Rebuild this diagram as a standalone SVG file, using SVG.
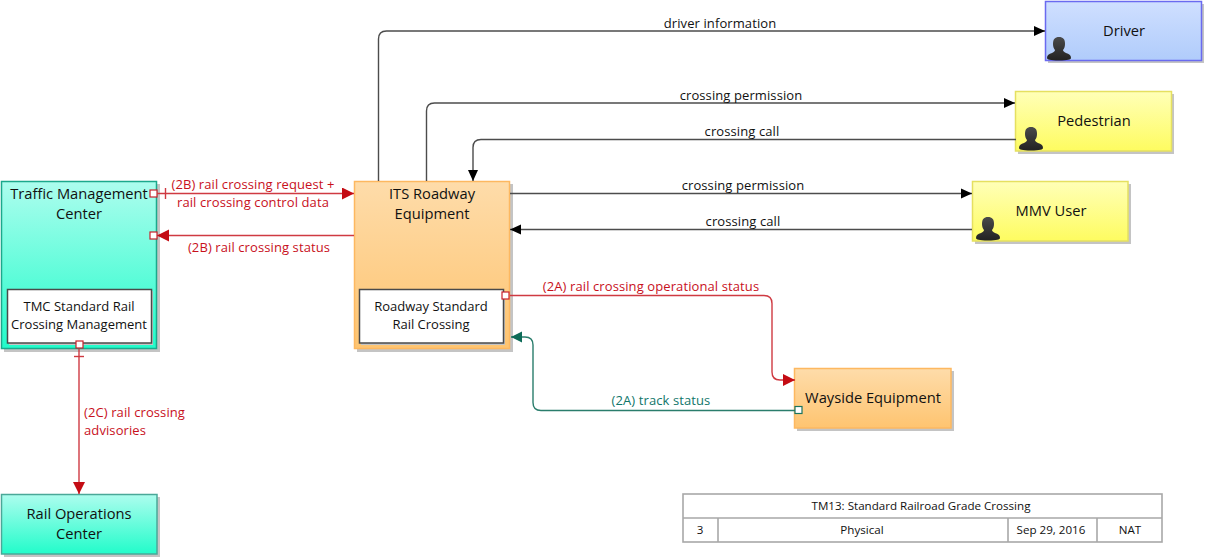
<svg xmlns="http://www.w3.org/2000/svg" width="1205" height="557" viewBox="0 0 1205 557">
<style>
text{font-family:"Open Sans","Noto Sans","DejaVu Sans",sans-serif;text-anchor:middle;fill:#111}
.n{font-size:14.7px}
.s{font-size:13px}
.l{font-size:13px;letter-spacing:.1px}
.r{fill:#c8101c}
.g{fill:#10766a}
.k{fill:#111}
.t{font-size:11.6px}
.c{fill:none;stroke-width:1.4}
.cr{stroke:#cf3a42}
.cg{stroke:#2a7d6c}
.ck{stroke:#4c4c4c}
.box{stroke-width:1.5}
.shadow{fill:#c4c4c4}
.inner{fill:#fff;stroke:#4a4a4a;stroke-width:1.5}
.port{fill:#fff;stroke-width:1.2}
.table{fill:#fff;stroke:#a8a8a8;stroke-width:1.6}
</style>
<defs>
<linearGradient id="teal" x1="0" y1="0" x2="0" y2="1"><stop offset="0" stop-color="#adfdee"/><stop offset="1" stop-color="#22fcca"/></linearGradient>
<linearGradient id="orange" x1="0" y1="0" x2="0" y2="1"><stop offset="0" stop-color="#fedcaa"/><stop offset="1" stop-color="#fec470"/></linearGradient>
<linearGradient id="yellow" x1="0" y1="0" x2="0" y2="1"><stop offset="0" stop-color="#ffffb8"/><stop offset="1" stop-color="#fefc60"/></linearGradient>
<linearGradient id="blue" x1="0" y1="0" x2="0" y2="1"><stop offset="0" stop-color="#cfdfff"/><stop offset="1" stop-color="#b0ccfb"/></linearGradient>
<linearGradient id="figure" x1="0" y1="0" x2="0" y2="1"><stop offset="0" stop-color="#4a4a4a"/><stop offset="1" stop-color="#222"/></linearGradient>
<marker id="ak" markerWidth="12" markerHeight="11" refX="11" refY="5.500" orient="auto" markerUnits="userSpaceOnUse"><path d="M0 0.500L11 5.500L0 10.500Z" fill="#000"/></marker>
<marker id="ar" markerWidth="13" markerHeight="13" refX="12" refY="6" orient="auto" markerUnits="userSpaceOnUse"><path d="M0 0L12 6L0 12Z" fill="#c40c14"/></marker>
<marker id="ag" markerWidth="13" markerHeight="12" refX="11" refY="5.500" orient="auto" markerUnits="userSpaceOnUse"><path d="M0 0L11 5.500L0 11Z" fill="#0d6b58"/></marker>
<g id="person"><path d="M-12 11c0-3 2-4 5-5 2-1 3-2 3-3-1-1-2-3-2-6 0-5 2-7 6-7s6 2 6 7c0 3-1 5-2 6 0 1 1 2 3 3 3 1 5 2 5 5 0 1.500-3 2.500-12 2.500S-12 12.500-12 11Z" fill="url(#figure)"/></g>
</defs>

<g id="tmc">
<rect class="shadow" x="4" y="184" width="156" height="168"/>
<rect class="box" x="1.500" y="181.500" width="155" height="167" fill="url(#teal)" stroke="#1ba98c"/>
<text class="n" x="79" y="199">Traffic Management</text>
<text class="n" x="79" y="219">Center</text>
<rect class="shadow" x="9" y="291" width="144" height="54"/>
<rect class="inner" x="7.500" y="289.500" width="144" height="53.500"/>
<text class="s" x="79" y="311">TMC Standard Rail</text>
<text class="s" x="79" y="329">Crossing Management</text>
<rect class="port" x="150" y="190" width="7" height="7" stroke="#c8202a"/>
<rect class="port" x="150" y="232" width="7" height="7" stroke="#c8202a"/>
<rect class="port" x="76" y="341" width="7" height="7" stroke="#c8202a"/>
</g>

<g id="its-roadway">
<rect class="shadow" x="357" y="184" width="156" height="168"/>
<rect class="box" x="354.500" y="181.500" width="155" height="167" fill="url(#orange)" stroke="#fdb860"/>
<text class="n" x="432" y="199">ITS Roadway</text>
<text class="n" x="432" y="219">Equipment</text>
<rect class="shadow" x="361" y="291" width="144" height="54"/>
<rect class="inner" x="359.500" y="289.500" width="144" height="53.500"/>
<text class="s" x="431" y="311">Roadway Standard</text>
<text class="s" x="431" y="329">Rail Crossing</text>
<rect class="port" x="502" y="292" width="7" height="7" stroke="#c8202a"/>
</g>

<g id="driver">
<rect class="shadow" x="1048" y="4" width="156" height="59"/>
<rect class="box" x="1045.500" y="1.500" width="156" height="59" fill="url(#blue)" stroke="#6a6af0"/>
<text class="n" x="1124" y="36">Driver</text>
<use href="#person" x="1059" y="47"/>
</g>

<g id="pedestrian">
<rect class="shadow" x="1018" y="94" width="156" height="60"/>
<rect class="box" x="1015.500" y="91.500" width="156" height="59.500" fill="url(#yellow)" stroke="#e5e060"/>
<text class="n" x="1094" y="126">Pedestrian</text>
<use href="#person" x="1031" y="137"/>
</g>

<g id="mmv-user">
<rect class="shadow" x="975" y="184" width="156" height="60"/>
<rect class="box" x="972.500" y="181.500" width="155.500" height="59.500" fill="url(#yellow)" stroke="#e5e060"/>
<text class="n" x="1051" y="216">MMV User</text>
<use href="#person" x="988" y="227"/>
</g>

<g id="wayside">
<rect class="shadow" x="797" y="371" width="157" height="60"/>
<rect class="box" x="794.500" y="368.500" width="156.500" height="59.500" fill="url(#orange)" stroke="#fdb860"/>
<text class="n" x="873" y="403">Wayside Equipment</text>
</g>

<g id="rail-ops">
<rect class="shadow" x="4" y="497" width="156" height="60"/>
<rect class="box" x="1.500" y="494.500" width="155.500" height="59.500" fill="url(#teal)" stroke="#4aa898"/>
<text class="n" x="79" y="519">Rail Operations</text>
<text class="n" x="79" y="539">Center</text>
</g>

<g id="connectors">
<path class="c ck" d="M378.500 181V39q0-8 8-8H1045" marker-end="url(#ak)"/>
<path class="c ck" d="M426.500 181V111q0-8 8-8H1015" marker-end="url(#ak)"/>
<path class="c ck" d="M1016 139.500H481q-8 0-8 8V181" marker-end="url(#ak)"/>
<path class="c ck" d="M510 193.500H972" marker-end="url(#ak)"/>
<path class="c ck" d="M972 229.500H510" marker-end="url(#ak)"/>
<path class="c cr" d="M157 193.500H354" marker-end="url(#ar)"/>
<path class="c cr" d="M165.500 188V199"/>
<path class="c cr" d="M354 235.500H157" marker-end="url(#ar)"/>
<path class="c cr" d="M79 349V494" marker-end="url(#ar)"/>
<path class="c cr" d="M74 356.500H84"/>
<path class="c cr" d="M510 295.500H764q8 0 8 8V372q0 8 8 8H795" marker-end="url(#ar)"/>
<path class="c cg" d="M795 410.500H541q-8 0-8-8V345q0-8-8-8H511" marker-end="url(#ag)"/>
<rect class="port" x="795" y="406.500" width="7" height="7" stroke="#1a7460"/>
</g>

<g id="labels">
<text class="l k" x="720" y="28">driver information</text>
<text class="l k" x="741" y="100">crossing permission</text>
<text class="l k" x="742" y="136">crossing call</text>
<text class="l k" x="743" y="190">crossing permission</text>
<text class="l k" x="743" y="226">crossing call</text>
<text class="l r" x="253" y="189">(2B) rail crossing request +</text>
<text class="l r" x="253" y="207">rail crossing control data</text>
<text class="l r" x="259" y="252">(2B) rail crossing status</text>
<text class="l r" x="651" y="291">(2A) rail crossing operational status</text>
<text class="l g" x="661" y="405">(2A) track status</text>
<text class="l r" x="84" y="417" style="text-anchor:start">(2C) rail crossing</text>
<text class="l r" x="84" y="435" style="text-anchor:start">advisories</text>
</g>

<g id="title-block">
<rect class="table" x="683" y="494" width="479" height="48"/>
<path d="M683 518H1162M718 518V542M1008 518V542M1097 518V542" stroke="#a8a8a8" stroke-width="1.600" fill="none"/>
<text class="t" x="921" y="510">TM13: Standard Railroad Grade Crossing</text>
<text class="t" x="700" y="534">3</text>
<text class="t" x="862" y="534">Physical</text>
<text class="t" x="1051" y="534">Sep 29, 2016</text>
<text class="t" x="1130" y="534">NAT</text>
</g>
</svg>
